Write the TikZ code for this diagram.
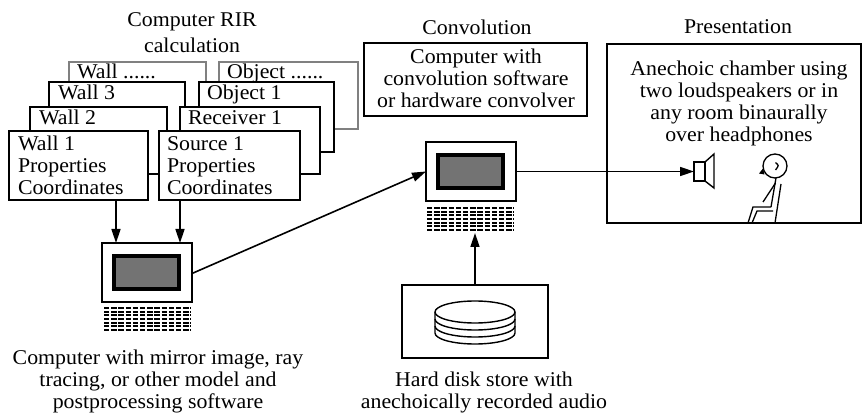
\documentclass[tikz,border=0pt]{standalone}
\usepackage{fontspec}
\setmainfont{Liberation Serif}[FakeStretch=1.04]
\usetikzlibrary{arrows.meta,calc}
\begin{document}
\begin{tikzpicture}[x=1pt,y=-1pt,
  every node/.style={font=\fontsize{21}{22}\selectfont, inner sep=0pt, outer sep=0pt},
  card/.style={draw, line width=1.7pt, fill=white, anchor=north west},
  backcard/.style={draw=black!50, line width=1.2pt, fill=white, anchor=north west},
  cardtext/.style={anchor=base west, align=left},
  frame/.style={draw, line width=1.7pt},
  link/.style={line width=1.6pt, -{Triangle[length=14pt,width=9pt]}},
  screen/.style={draw, line width=3.5pt, fill=black!55, anchor=north west,
                 minimum width=65pt, minimum height=33pt},
  pcbox/.style={draw, line width=1.6pt, fill=white, anchor=north west,
                minimum width=90pt, minimum height=59pt},
  keys/.style={line width=2pt, dash pattern=on 5.4pt off 1.8pt},
  figure/.style={line width=1.3pt}
]
\useasboundingbox (0,0) rectangle (863,414);

% ---------- RIR calculation: stacked property cards ----------
% (multi-line nodes are placed by the baseline of their last line)
\node[anchor=base] (rirtitle) at (192,27) {Computer RIR};
\node[anchor=base] (rirtitle2) at (192,53) {calculation};

\node[backcard, minimum width=137pt, minimum height=68pt] (wn) at (69,62) {};
\node[cardtext] (wnt) at ($(wn.north west)+(8,17)$) {Wall ......};
\node[backcard, minimum width=139pt, minimum height=67pt] (on) at (219,62) {};
\node[cardtext] (ont) at ($(on.north west)+(8,17)$) {Object ......};

\node[card, minimum width=136pt, minimum height=69pt] (w3) at (49,82) {};
\node[cardtext] (w3t) at ($(w3.north west)+(9,18)$) {Wall 3};
\node[card, minimum width=135pt, minimum height=70pt] (o1) at (199,82) {};
\node[cardtext] (o1t) at ($(o1.north west)+(8,18)$) {Object 1};

\node[card, minimum width=137pt, minimum height=67pt] (w2) at (30,107) {};
\node[cardtext] (w2t) at ($(w2.north west)+(9,18)$) {Wall 2};
\node[card, minimum width=140pt, minimum height=67pt] (r1) at (180,107) {};
\node[cardtext] (r1t) at ($(r1.north west)+(8,18)$) {Receiver 1};

\node[card, minimum width=139pt, minimum height=69pt] (w1) at (9,131) {};
\node[cardtext] (w1t) at ($(w1.north west)+(9,64)$) {Wall 1\\Properties\\Coordinates};
\node[card, minimum width=141pt, minimum height=69pt] (s1) at (159,131) {};
\node[cardtext] (s1t) at ($(s1.north west)+(8,64)$) {Source 1\\Properties\\Coordinates};

% ---------- RIR computer ----------
\node[pcbox] (pcl) at (102,243) {};
\node[screen] (scl) at ($(pcl.north west)+(12,13)$) {};
\foreach \k in {0,...,6}
  \draw[keys] (104,308+3.7*\k) -- (191,308+3.7*\k);
\node[anchor=base, align=center] (pcltext) at (158,408)
  {\fontsize{21}{23.5}\selectfont Computer with mirror image, ray\\tracing, or other model and\\postprocessing software};

\draw[link] ([xshift=107pt]w1.south west) -- ([xshift=107pt]w1.south west |- pcl.north);
\draw[link] ([xshift=21pt]s1.south west) -- ([xshift=21pt]s1.south west |- pcl.north);

% ---------- Convolution ----------
\node[anchor=base] (convtitle) at (477,35) {Convolution};
\node[frame, anchor=north west, minimum width=223pt, minimum height=73pt] (conv) at (364,43) {};
\node[anchor=base, align=center] (convtext) at (476,108)
  {Computer with\\convolution software\\or hardware convolver};

\node[pcbox] (pcc) at (426,142) {};
\node[screen] (scc) at ($(pcc.north west)+(12,13)$) {};
\foreach \k in {0,...,6}
  \draw[keys] (427,208+3.7*\k) -- (514,208+3.7*\k);

\draw[link] ([yshift=-1pt]pcl.east) -- (pcc.west);

% ---------- Hard disk ----------
\node[frame, anchor=north west, minimum width=146pt, minimum height=73pt] (hd) at (402,285) {};
\draw[line width=1.4pt, fill=white] (435,312) -- (435,333)
  arc[start angle=180, end angle=0, x radius=40, y radius=11] -- (515,312);
\foreach \c in {319,326}
  \draw[line width=1.4pt] (435,\c) arc[start angle=180, end angle=0, x radius=40, y radius=11];
\draw[line width=1.4pt, fill=white] (475,312) ellipse [x radius=40, y radius=11];
\node[anchor=base, align=center] (hdtext) at (484,408)
  {\fontsize{21}{23}\selectfont Hard disk store with\\anechoically recorded audio};

\coordinate (hdtop) at (475,285);
\draw[link] (hdtop) -- (475,233);

% ---------- Presentation ----------
\node[anchor=base] (prestitle) at (738,34) {Presentation};
\node[frame, anchor=north west, minimum width=254pt, minimum height=179pt] (pres) at (607,44) {};
\node[anchor=base, align=center] (prestext) at (739,142)
  {\fontsize{21}{23.7}\selectfont Anechoic chamber using\\two loudspeakers or in\\any room binaurally\\over headphones};

% loudspeaker
\node[draw, line width=1.4pt, anchor=north west, minimum width=11pt, minimum height=19pt] (spk) at (694,162) {};
\draw[line width=1.4pt, line join=miter] (spk.north east) -- (714,154) -- (714,188) -- (spk.south east);
\draw[link] (pcc.east) -- (spk.west);

% seated listener
\node[draw, circle, line width=1.3pt, minimum size=24pt] (head) at (775,166) {};
\fill (763,168.5) -- (759,173.5) -- (764.5,174.5) -- cycle;
\draw[figure] (775.5,162.5) .. controls (779,165.5) .. (775.5,170);
\draw[figure] (776,178) -- (771,207);
\draw[figure] (775.5,183) -- (763,202);
\draw[figure] (781,184) -- (775,223);
\draw[figure] (771,207) -- (753,207) -- (748,223);
\draw[figure] (773,211) -- (757,211) -- (752,223);
\end{tikzpicture}
\end{document}
